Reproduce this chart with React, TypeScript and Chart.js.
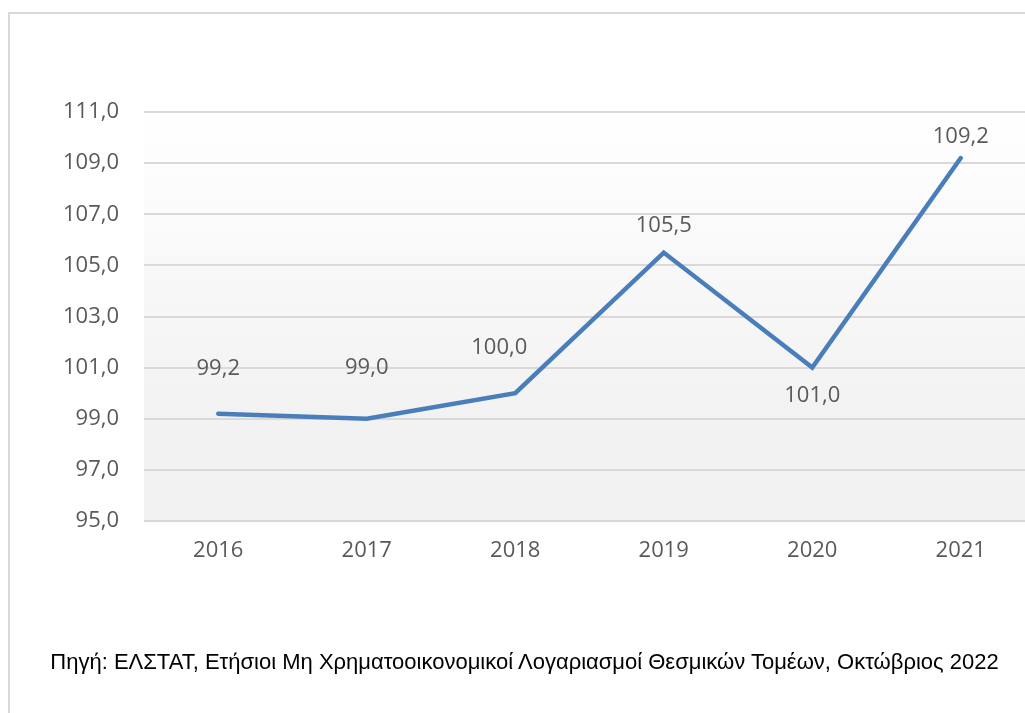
import React, { useEffect, useRef } from "react";
import { Chart, registerables } from "chart.js";

Chart.register(...registerables);

const categories: string[] = ["2016", "2017", "2018", "2019", "2020", "2021"];
const values: number[] = [99.2, 99.0, 100.0, 105.5, 101.0, 109.2];
const yMin = 95;
const yMax = 111;
const yStep = 2;
const sourceText =
  "Πηγή: ΕΛΣΤΑΤ, Ετήσιοι Μη Χρηματοοικονομικοί Λογαριασμοί Θεσμικών Τομέων, Οκτώβριος 2022";

// label placement (pixel offsets from the point), style only
const labelDx: number[] = [0, 0, -16, 0, 0, 0];
const labelDy: number[] = [-45, -51, -45, -27, 28, -21];

const fmt = (v: number) => v.toFixed(1).replace(".", ",");

const TEXT = "#595959";
const FONT = "'Open Sans', 'DejaVu Sans', sans-serif";
const FONT_SIZE = 22;

export default function App() {
  const ref = useRef<HTMLCanvasElement | null>(null);

  useEffect(() => {
    if (!ref.current) return;
    const bgPlugin = {
      id: "bgGrad",
      beforeDraw(chart: any) {
        const { ctx, chartArea } = chart;
        if (!chartArea) return;
        const g = ctx.createLinearGradient(0, chartArea.top, 0, chartArea.bottom);
        g.addColorStop(0, "#ffffff");
        g.addColorStop(0.75, "#f2f2f2");
        g.addColorStop(1, "#f2f2f2");
        ctx.save();
        ctx.fillStyle = g;
        ctx.fillRect(chartArea.left, chartArea.top, chartArea.right - chartArea.left, chartArea.bottom - chartArea.top);
        ctx.restore();
      },
    };
    const labelPlugin = {
      id: "valLabels",
      afterDatasetsDraw(chart: any) {
        const { ctx } = chart;
        const meta = chart.getDatasetMeta(0);
        ctx.save();
        ctx.font = `${FONT_SIZE}px ${FONT}`;
        ctx.fillStyle = TEXT;
        ctx.textAlign = "center";
        ctx.textBaseline = "middle";
        meta.data.forEach((pt: any, i: number) => {
          ctx.fillText(fmt(values[i]), pt.x + labelDx[i], pt.y + labelDy[i]);
        });
        ctx.restore();
      },
    };
    const chart = new Chart(ref.current, {
      type: "line",
      data: {
        labels: categories,
        datasets: [
          {
            data: values,
            borderColor: "#4a7ebb",
            borderWidth: 4.5,
            pointRadius: 0,
            tension: 0,
            borderCapStyle: "round",
            borderJoinStyle: "miter",
            fill: false,
          },
        ],
      },
      options: {
        animation: false,
        responsive: false,
        maintainAspectRatio: false,
        layout: { padding: { left: 0, right: 1, top: 112, bottom: 0 } },
        plugins: { legend: { display: false }, tooltip: { enabled: false }, title: { display: false } },
        scales: {
          x: {
            offset: true,
            grid: { display: false, drawTicks: false },
            border: { display: false },
            ticks: { color: TEXT, font: { family: FONT, size: FONT_SIZE }, padding: 17, maxRotation: 0 },
            afterFit: (s: any) => {
              s.height = 192;
            },
          },
          y: {
            min: yMin,
            max: yMax,
            grid: { color: "#d9d9d9", lineWidth: 2, drawTicks: false },
            border: { display: false },
            ticks: {
              stepSize: yStep,
              color: TEXT,
              font: { family: FONT, size: FONT_SIZE },
              padding: 25,
              callback: (v: any) => fmt(Number(v)),
            },
            afterFit: (s: any) => {
              s.width = 144;
            },
          },
        },
      },
      plugins: [bgPlugin, labelPlugin],
    } as any);
    return () => chart.destroy();
  }, []);

  return (
    <div style={{ position: "fixed", left: 0, top: 0, width: 1025, height: 713, overflow: "hidden", background: "#fff" }}>
      <div
        style={{
          position: "absolute",
          left: 8,
          top: 12,
          width: 1100,
          height: 800,
          border: "2px solid #d9d9d9",
          boxSizing: "border-box",
        }}
      />
      <canvas ref={ref} width={1036} height={713} style={{ position: "absolute", left: 0, top: 0, width: 1036, height: 713 }} />
      <div
        style={{
          position: "absolute",
          left: 0,
          width: 1049,
          top: 649,
          textAlign: "center",
          fontFamily: "'Liberation Sans', Arial, sans-serif",
          fontSize: 22,
          lineHeight: "26px",
          color: "#000",
          whiteSpace: "nowrap",
        }}
      >
        {sourceText}
      </div>
    </div>
  );
}
